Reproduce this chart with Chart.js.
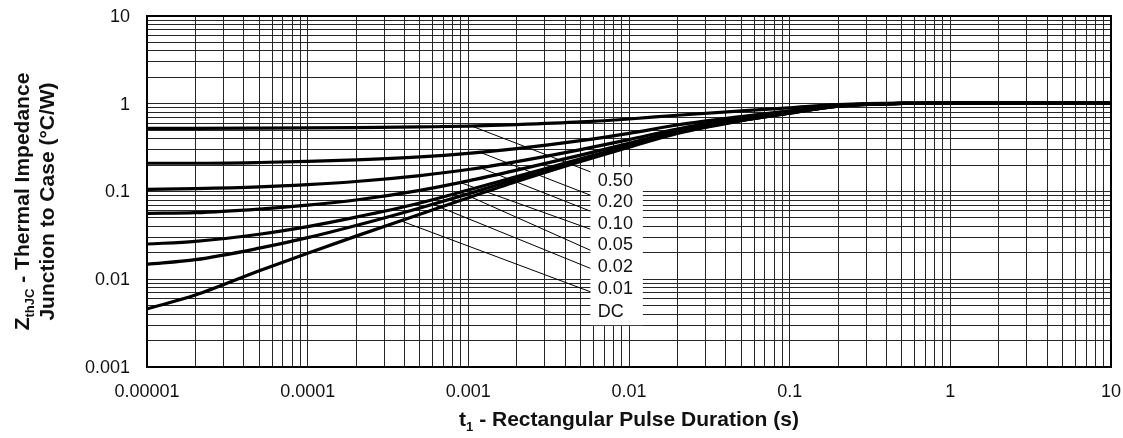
<!DOCTYPE html>
<html>
<head>
<meta charset="utf-8">
<script src="https://cdn.jsdelivr.net/npm/chart.js@4.4.1/dist/chart.umd.min.js"></script>
<style>
html, body { margin: 0; padding: 0; background: #fff; }
</style>
</head>
<body>
<canvas id="zth" width="1123" height="438"></canvas>
<script>
// pulse duration t1 (s)
const pulseTimes = [1e-5, 2e-5, 5e-5, 1e-4, 2e-4, 5e-4, 1e-3, 2e-3, 5e-3, 1e-2, 2e-2, 5e-2, 0.1, 0.2, 0.5, 1, 10];

// ZthJC (°C/W)
const zD050 = [0.525, 0.525, 0.527, 0.53, 0.535, 0.545, 0.555, 0.578, 0.62, 0.67, 0.74, 0.83, 0.90, 0.975, 1.015, 1.02, 1.02];
const zD020 = [0.21, 0.21, 0.214, 0.22, 0.229, 0.248, 0.272, 0.308, 0.38, 0.46, 0.572, 0.715, 0.83, 0.955, 1.01, 1.02, 1.02];
const zD010 = [0.106, 0.108, 0.113, 0.12, 0.13, 0.152, 0.178, 0.219, 0.30, 0.39, 0.516, 0.68, 0.80, 0.95, 1.01, 1.02, 1.02];
const zD005 = [0.0564, 0.0573, 0.063, 0.0698, 0.080, 0.103, 0.132, 0.175, 0.26, 0.355, 0.488, 0.66, 0.79, 0.945, 1.01, 1.02, 1.02];
const zD002 = [0.0252, 0.027, 0.0326, 0.0398, 0.051, 0.074, 0.104, 0.148, 0.236, 0.334, 0.471, 0.648, 0.785, 0.94, 1.01, 1.02, 1.02];
const zD001 = [0.0148, 0.0167, 0.0226, 0.0298, 0.041, 0.065, 0.094, 0.139, 0.228, 0.327, 0.466, 0.644, 0.782, 0.94, 1.01, 1.02, 1.02];
const zDC   = [0.0046, 0.0066, 0.0125, 0.0198, 0.031, 0.055, 0.085, 0.13, 0.22, 0.32, 0.46, 0.64, 0.78, 0.94, 1.01, 1.02, 1.02];

const curves = [zD050, zD020, zD010, zD005, zD002, zD001, zDC];
const dutyLabels = ['0.50', '0.20', '0.10', '0.05', '0.02', '0.01', 'DC'];

const xTickLabels = ['0.00001', '0.0001', '0.001', '0.01', '0.1', '1', '10'];
const yTickLabels = ['0.001', '0.01', '0.1', '1', '10'];

// callouts, in data units: start t on each curve, end of leader, label centre
const leaderStartT = [0.00105, 0.00118, 0.00118, 0.00089, 0.00089, 0.0006, 0.00038];
const leaderEndZ = [0.1675, 0.0908, 0.0597, 0.0372, 0.0214, 0.0133, 0.0072];
const labelZ = [0.1346, 0.0782, 0.0439, 0.0251, 0.0141, 0.0079, 0.0044];
const leaderEndT = 0.00575;
const labelT = 0.0064;
const labelBoxT = [0.00575, 0.0122];
const labelBoxZ = [0.003, 0.19];

const FONT = '"Liberation Sans", Arial, Helvetica, sans-serif';

// log grid: 1..9 in every decade
function logTicks(labels) {
    const vals = [];
    const lo = Math.round(Math.log10(Number(labels[0])));
    const hi = Math.round(Math.log10(Number(labels[labels.length - 1])));
    for (let e = lo; e < hi; e++) {
        for (let m = 1; m <= 9; m++) vals.push(Number((m * Math.pow(10, e)).toPrecision(3)));
    }
    vals.push(Number(labels[labels.length - 1]));
    return vals;
}

// log-log interpolation on a curve (for the leader start points)
function zAt(series, t) {
    for (let i = 0; i < pulseTimes.length - 1; i++) {
        if (t >= pulseTimes[i] && t <= pulseTimes[i + 1]) {
            const f = (Math.log10(t) - Math.log10(pulseTimes[i])) / (Math.log10(pulseTimes[i + 1]) - Math.log10(pulseTimes[i]));
            return Math.pow(10, Math.log10(series[i]) + f * (Math.log10(series[i + 1]) - Math.log10(series[i])));
        }
    }
    return series[series.length - 1];
}

function drawRich(ctx, parts, x, y) {
    const main = 'bold 21px ' + FONT;
    const sub = 'bold 13px ' + FONT;
    let total = 0;
    parts.forEach(p => { ctx.font = p.sub ? sub : main; total += ctx.measureText(p.text).width; });
    let cx = x - total / 2;
    ctx.textAlign = 'left';
    ctx.textBaseline = 'alphabetic';
    parts.forEach(p => {
        ctx.font = p.sub ? sub : main;
        ctx.fillText(p.text, cx, y + (p.sub ? 5 : 0));
        cx += ctx.measureText(p.text).width;
    });
}

const calloutPlugin = {
    id: 'callouts',
    beforeDatasetsDraw(chart) {
        const { ctx, scales: { x, y } } = chart;
        const x0 = x.getPixelForValue(labelBoxT[0]), x1 = x.getPixelForValue(labelBoxT[1]);
        const y0 = y.getPixelForValue(labelBoxZ[1]), y1 = y.getPixelForValue(labelBoxZ[0]);
        ctx.save();
        ctx.fillStyle = '#fff';
        ctx.fillRect(x0, y0, x1 - x0, y1 - y0);
        ctx.restore();
    },
    afterDatasetsDraw(chart) {
        const { ctx, chartArea: a, scales: { x, y } } = chart;
        ctx.save();
        ctx.strokeStyle = '#000';
        ctx.lineWidth = 1;
        curves.forEach((series, i) => {
            const t = leaderStartT[i];
            ctx.beginPath();
            ctx.moveTo(x.getPixelForValue(t), y.getPixelForValue(zAt(series, t)));
            ctx.lineTo(x.getPixelForValue(leaderEndT), y.getPixelForValue(leaderEndZ[i]));
            ctx.stroke();
        });
        ctx.fillStyle = '#111';
        ctx.font = '18px ' + FONT;
        ctx.textAlign = 'left';
        ctx.textBaseline = 'middle';
        dutyLabels.forEach((lab, i) => {
            ctx.fillText(lab, x.getPixelForValue(labelT), y.getPixelForValue(labelZ[i]) + 1);
        });
        // plot frame
        ctx.lineWidth = 2;
        ctx.strokeRect(a.left, a.top, a.right - a.left, a.bottom - a.top);
        ctx.restore();
    },
    afterDraw(chart) {
        const { ctx, chartArea: a, scales: { x, y } } = chart;
        ctx.save();
        ctx.fillStyle = '#111';
        // decade tick labels
        ctx.font = '18px ' + FONT;
        ctx.textBaseline = 'middle';
        ctx.textAlign = 'right';
        yTickLabels.forEach(l => ctx.fillText(l, a.left - 17, y.getPixelForValue(Number(l)) + 1));
        ctx.textAlign = 'center';
        xTickLabels.forEach(l => ctx.fillText(l, x.getPixelForValue(Number(l)), a.bottom + 25));
        // axis titles
        drawRich(ctx, [{ text: 't' }, { text: '1', sub: true }, { text: ' - Rectangular Pulse Duration (s)' }],
            (a.left + a.right) / 2, 426);
        const cy = (a.top + a.bottom) / 2 + 10;
        ctx.translate(29, cy);
        ctx.rotate(-Math.PI / 2);
        drawRich(ctx, [{ text: 'Z' }, { text: 'thJC', sub: true }, { text: ' - Thermal Impedance' }], 0, 0);
        drawRich(ctx, [{ text: 'Junction to Case (°C/W)' }], 0, 25);
        ctx.restore();
    }
};

const datasets = curves.map((series, i) => ({
    label: dutyLabels[i],
    data: pulseTimes.map((t, j) => ({ x: t, y: series[j] })),
    borderColor: '#000',
    borderWidth: 3.2,
    pointRadius: 0,
    fill: false,
    cubicInterpolationMode: 'monotone'
}));

const gridStyle = { color: '#262626', lineWidth: 1, drawTicks: false };

new Chart(document.getElementById('zth'), {
    type: 'line',
    data: { datasets },
    options: {
        responsive: false,
        animation: false,
        devicePixelRatio: 1,
        layout: { padding: { top: 16, right: 12, left: 0, bottom: 0 } },
        plugins: { legend: { display: false }, tooltip: { enabled: false } },
        scales: {
            x: {
                type: 'logarithmic',
                min: 1e-5,
                max: 10,
                grid: gridStyle,
                border: { display: false },
                afterBuildTicks: s => { s.ticks = logTicks(xTickLabels).map(v => ({ value: v })); },
                afterFit: s => { s.height = 71; },
                ticks: { display: false, autoSkip: false }
            },
            y: {
                type: 'logarithmic',
                min: 0.001,
                max: 10,
                grid: gridStyle,
                border: { display: false },
                afterBuildTicks: s => { s.ticks = logTicks(yTickLabels).map(v => ({ value: v })); },
                afterFit: s => { s.width = 147; },
                ticks: { display: false, autoSkip: false }
            }
        }
    },
    plugins: [calloutPlugin]
});
</script>
</body>
</html>
